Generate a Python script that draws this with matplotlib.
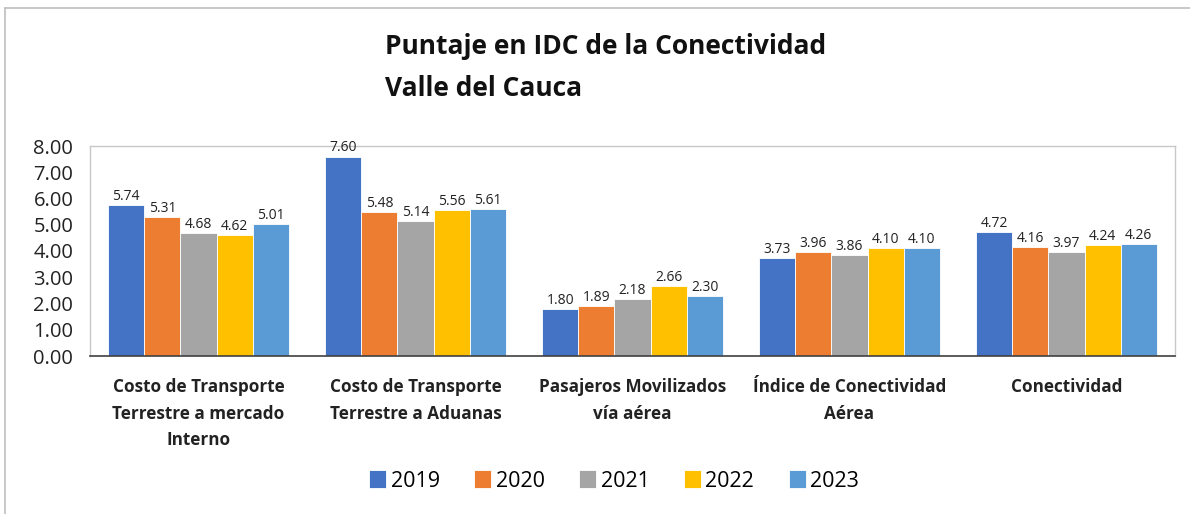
import matplotlib.pyplot as plt
import numpy as np
from matplotlib.lines import Line2D

# datos
categorias = ["Costo de Transporte\nTerrestre a mercado\nInterno",
              "Costo de Transporte\nTerrestre a Aduanas",
              "Pasajeros Movilizados\nvía aérea",
              "Índice de Conectividad\nAérea",
              "Conectividad"]
anios = ["2019", "2020", "2021", "2022", "2023"]
v2019 = [5.74, 7.60, 1.80, 3.73, 4.72]
v2020 = [5.31, 5.48, 1.89, 3.96, 4.16]
v2021 = [4.68, 5.14, 2.18, 3.86, 3.97]
v2022 = [4.62, 5.56, 2.66, 4.10, 4.24]
v2023 = [5.01, 5.61, 2.30, 4.10, 4.26]
series = [v2019, v2020, v2021, v2022, v2023]
colores = ["#4472C4", "#ED7D31", "#A5A5A5", "#FFC000", "#5B9BD5"]

plt.rcParams['font.family'] = ['Open Sans', 'DejaVu Sans']

fig = plt.figure(figsize=(11.9, 5.14), dpi=100)
ax = fig.add_axes([90/1190, 1-356/514, 1085/1190, 210/514])

x = np.arange(len(categorias))
w = 1/6
for i, (s, c) in enumerate(zip(series, colores)):
    pos = x - 2*w + i*w
    ax.bar(pos, s, width=w, color=c, edgecolor='white', linewidth=0.6, label=anios[i])
    for px, v in zip(pos, s):
        ax.text(px, v + 0.04, f"{v:.2f}", ha='center', va='bottom', fontsize=10, color='#222222')

ax.set_xlim(-0.5, len(categorias) - 0.5)
ax.set_ylim(0, 8)
ax.set_yticks(np.arange(0, 9, 1))
ax.set_yticklabels([f"{t:.2f}" for t in range(9)], fontsize=14.5, color='#222222')
ax.tick_params(axis='y', length=0, pad=12)
ax.set_xticks(x)
ax.set_xticklabels(categorias, fontsize=12.3, fontweight='bold', color='#222222',
                   linespacing=1.6)
ax.tick_params(axis='x', length=0, pad=16)

for lado in ['top', 'right', 'left']:
    ax.spines[lado].set_color('#C8C8C8')
    ax.spines[lado].set_linewidth(1)
ax.spines['bottom'].set_color('#404040')
ax.spines['bottom'].set_linewidth(1.2)

# titulo
fig.text(385/1190, 1-46/514, "Puntaje en IDC de la Conectividad", fontsize=19, fontweight='bold',
         ha='left', va='center', color='#111111')
fig.text(385/1190, 1-89/514, "Valle del Cauca", fontsize=19, fontweight='bold',
         ha='left', va='center', color='#111111')

# leyenda
leg = fig.legend(loc='center', bbox_to_anchor=(0.516, 1-481/514), ncol=5, frameon=False,
                 fontsize=15.5, handlelength=0.8, handleheight=0.9, handletextpad=0.2,
                 columnspacing=1.6)

# borde exterior
fig.add_artist(Line2D([5/1190, 5/1190], [0, 1-8/514], transform=fig.transFigure, color='#BFBFBF', lw=1.2))
fig.add_artist(Line2D([5/1190, 1], [1-8/514, 1-8/514], transform=fig.transFigure, color='#BFBFBF', lw=1.2))

plt.savefig("out.png", dpi=100)
